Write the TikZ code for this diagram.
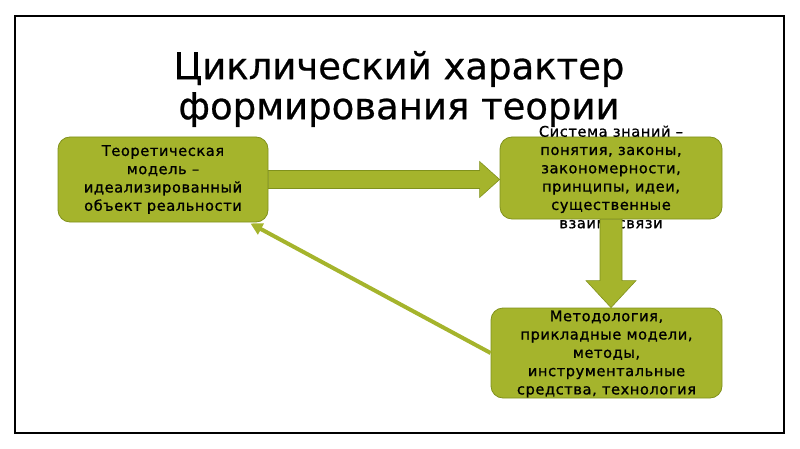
\documentclass[tikz,border=0pt]{standalone}
\usepackage{fontspec}
\setmainfont{DejaVu Sans}
\newfontfamily\boxfont[LetterSpace=4,FakeBold=1]{DejaVu Sans}
\newfontfamily\titlefont[FakeBold=0.6]{DejaVu Sans}
\usetikzlibrary{calc,arrows.meta}
\definecolor{olive}{RGB}{165,180,44}
\definecolor{olivedark}{RGB}{128,145,28}
\tikzset{
  box/.style={draw=olivedark, fill=olive, line width=0.8pt, rounded corners=12pt, inner sep=0pt},
  txt/.style={align=center, font=\boxfont\fontsize{14.6}{18.3}\selectfont, inner sep=0pt},
  blockarrow/.style={draw=olivedark, fill=olive, line width=0.6pt},
  backarrow/.style={draw=olive, line width=4pt, -{Triangle[length=12pt,width=12pt]}},
  frame/.style={draw=black, line width=1.3pt}
}
\begin{document}
\begin{tikzpicture}[x=1pt,y=-1pt]
\useasboundingbox (0,0) rectangle (800,449);
\draw[frame] (15,16) rectangle (784,433);
\node[font=\titlefont\fontsize{37}{40}\selectfont, align=center] (title) at (399,89) {Циклический характер\\формирования теории};
% boxes
\node[box, minimum width=210pt, minimum height=85pt] (b1) at (163,179.5) {};
\node[txt] (t1) at (b1.center) {Теоретическая\\модель –\\идеализированный\\объект реальности};
\node[box, minimum width=222pt, minimum height=82pt] (b2) at (611,178) {};
\node[txt] (t2) at ($(b2.center)+(0,-1)$) {Система знаний –\\понятия, законы,\\закономерности,\\принципы, идеи,\\существенные\\взаимосвязи};
\node[box, minimum width=231pt, minimum height=90pt] (b3) at (606.5,353) {};
\node[txt] (t3) at ($(b3.center)+(0,1)$) {Методология,\\прикладные модели,\\методы,\\инструментальные\\средства, технология};
% right block arrow
\draw[blockarrow] let \p1=(b1.east), \p2=(b2.west) in
  (\x1,\y1-9) -- (\x2-20,\y1-9) -- (\x2-20,\y1-18) -- (\x2,\y1) -- (\x2-20,\y1+18) -- (\x2-20,\y1+9) -- (\x1,\y1+9) -- cycle;
% down block arrow
\draw[blockarrow] let \p1=(b2.south), \p2=(b3.north) in
  (\x1-11,\y1) -- (\x1+11,\y1) -- (\x1+11,\y2+27) -- (\x1+25,\y2+27) -- (\x1,\y2) -- (\x1-25,\y2+27) -- (\x1-11,\y2+27) -- cycle;
% back arrow
\coordinate (c1) at ($(b1.south east)+(-18,1)$);
\draw[backarrow] (b3.west) -- (c1);
\end{tikzpicture}
\end{document}
